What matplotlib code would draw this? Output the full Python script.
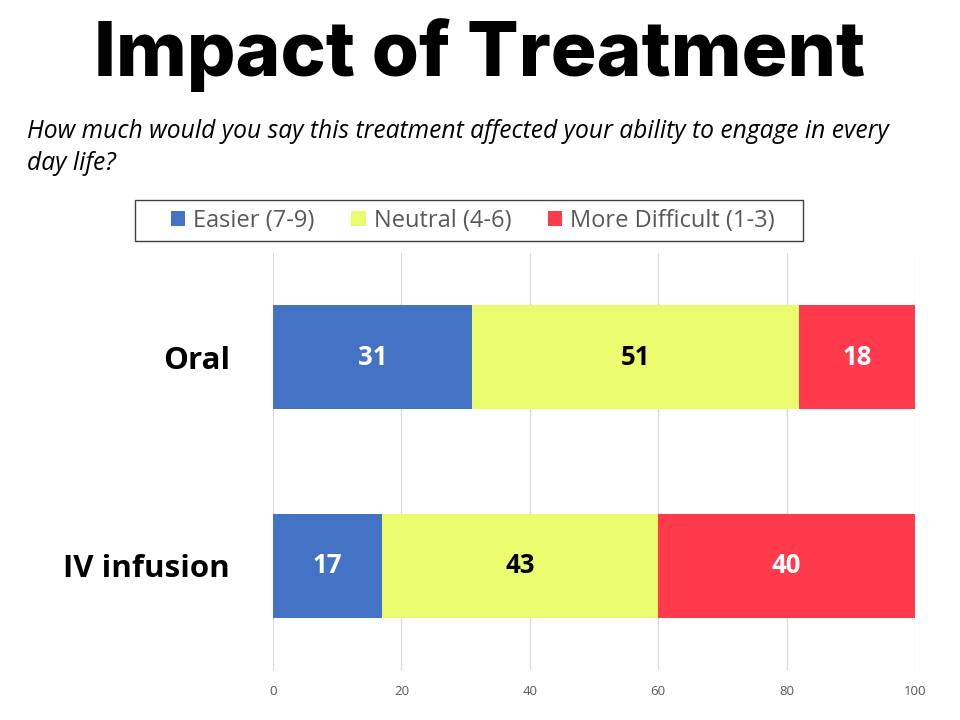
import matplotlib
matplotlib.use("Agg")
import matplotlib.pyplot as plt
from matplotlib.patches import Patch, Rectangle

categories = ["IV infusion", "Oral"]
series_names = ["Easier (7-9)", "Neutral (4-6)", "More Difficult (1-3)"]
easier = [17, 31]
neutral = [43, 51]
difficult = [40, 18]
colors = ["#4472C4", "#EAFC6E", "#FF3A4C"]
label_colors = ["white", "black", "white"]
ticks = [0, 20, 40, 60, 80, 100]

fig = plt.figure(figsize=(9.6, 7.2), dpi=100)
ax = fig.add_axes([273/960, 1-670/720, (915-273)/960, (670-253)/720])

series = [easier, neutral, difficult]
left = [0]*len(categories)
ypos = list(range(len(categories)))
for vals, col, lc in zip(series, colors, label_colors):
    bars = ax.barh(ypos, vals, left=left, height=0.5, color=col, zorder=2)
    for b, v in zip(bars, vals):
        ax.text(b.get_x()+b.get_width()/2, b.get_y()+b.get_height()/2, str(v),
                ha="center", va="center", color=lc, fontsize=18.5, fontweight="bold",
                family="Open Sans", zorder=3)
    left = [l+v for l, v in zip(left, vals)]

ax.set_xlim(0, 100)
ax.set_ylim(-0.5, 1.5)
ax.set_xticks(ticks)
ax.set_xticklabels([str(t) for t in ticks], color="#595959", fontsize=9.5, family="Open Sans")
ax.set_yticks(ypos)
ax.set_yticklabels(categories, fontsize=22.5, fontweight="bold", family="Open Sans", color="black")
ax.tick_params(axis="y", length=0, pad=31)
ax.tick_params(axis="x", length=0, pad=11)
ax.grid(axis="x", color="#D9D9D9", linewidth=0.9, zorder=0)
for s in ax.spines.values():
    s.set_visible(False)

fig.text(0.5, 1-55/720, "Impact of Treatment", ha="center", va="center",
         fontsize=55, fontweight="heavy", family="Inter", color="black")
fig.text(27/960, 1-131/720, "How much would you say this treatment affected your ability to engage in every",
         ha="left", va="center", fontsize=17.7, style="italic", family="Open Sans", color="black")
fig.text(27/960, 1-163/720, "day life?",
         ha="left", va="center", fontsize=17.7, style="italic", family="Open Sans", color="black")

# legend frame
fig.patches.append(Rectangle((135/960, 1-241/720), (803-135)/960, 41/720,
                             transform=fig.transFigure, facecolor="white",
                             edgecolor="#404040", linewidth=1.0, zorder=0))
handles = [Patch(facecolor=c, edgecolor="none") for c in colors]
leg = fig.legend(handles, series_names, loc="center", bbox_to_anchor=(473/960, 1-221/720),
                 ncol=3, frameon=False,
                 prop={"family": "Open Sans", "size": 17}, handlelength=0.6, handleheight=0.6,
                 columnspacing=1.55, handletextpad=0.35, borderpad=0.2, borderaxespad=0)
for t in leg.get_texts():
    t.set_color("#595959")

fig.savefig("out.png", dpi=100)
